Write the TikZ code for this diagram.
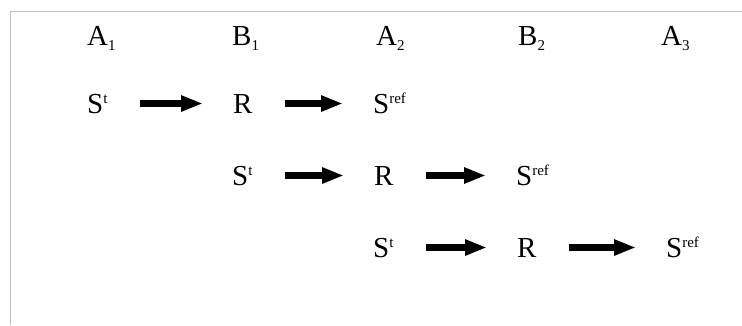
\documentclass[tikz,border=0pt]{standalone}
\usepackage{fontspec}
\setmainfont{Liberation Serif}
\usetikzlibrary{arrows.meta}
\tikzset{
  lbl/.style={anchor=base west, inner sep=0pt, text height=19pt, text depth=0pt, font=\fontsize{29}{31}\selectfont},
  arr/.style={line width=7pt, -{Triangle[length=22pt,width=15pt]}, shorten <=32pt, shorten >=30pt},
  frame/.style={draw=black!25, line width=1pt}
}
\newcommand{\lsub}[1]{\raisebox{-5pt}{\fontsize{15}{15}\selectfont #1}}
\newcommand{\lsup}[1]{\raisebox{10pt}{\fontsize{15}{15}\selectfont #1}}
\begin{document}
\begin{tikzpicture}[x=1pt,y=-1pt]
\useasboundingbox (0,0) rectangle (742,325);
\draw[frame] (10,325) -- (10,11) -- (742,11);
% header
\node[lbl] (hA1) at (87,45) {A\lsub{1}};
\node[lbl] (hB1) at (232,45) {B\lsub{1}};
\node[lbl] (hA2) at (376,45) {A\lsub{2}};
\node[lbl] (hB2) at (518,45) {B\lsub{2}};
\node[lbl] (hA3) at (661,45) {A\lsub{3}};
% row 1
\node[lbl] (s1) at (87,113) {S\lsup{t}};
\node[lbl] (r1) at (233,113) {R};
\node[lbl] (f1) at (373,113) {S\lsup{ref}};
% row 2
\node[lbl] (s2) at (232,185) {S\lsup{t}};
\node[lbl] (r2) at (374,185) {R};
\node[lbl] (f2) at (516,185) {S\lsup{ref}};
% row 3
\node[lbl] (s3) at (373,257) {S\lsup{t}};
\node[lbl] (r3) at (517,257) {R};
\node[lbl] (f3) at (666,257) {S\lsup{ref}};
% arrows
\draw[arr] (s1.east) -- (r1.west);
\draw[arr] (r1.east) -- (f1.west);
\draw[arr] (s2.east) -- (r2.west);
\draw[arr] (r2.east) -- (f2.west);
\draw[arr] (s3.east) -- (r3.west);
\draw[arr] (r3.east) -- (f3.west);
\end{tikzpicture}
\end{document}
